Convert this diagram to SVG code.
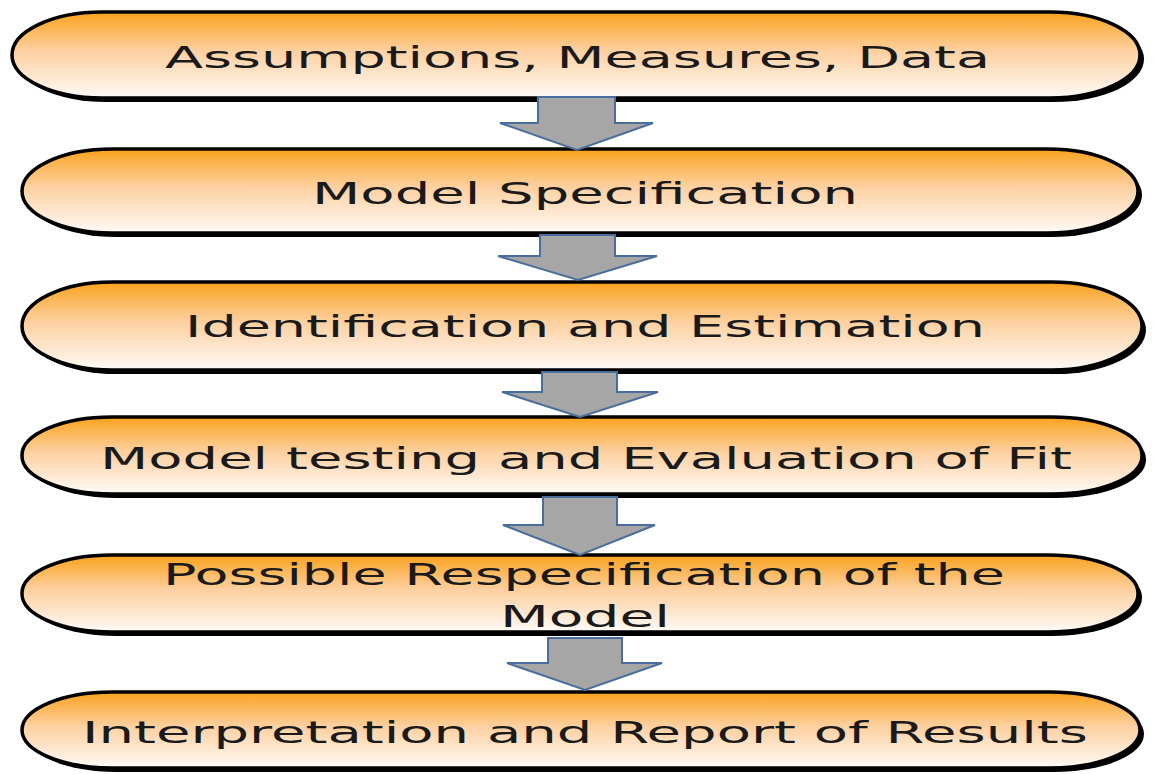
<svg xmlns="http://www.w3.org/2000/svg" width="1154" height="774" viewBox="0 0 1154 774">
  <style>
    .shadow { fill: #000000; }
    .box { fill: url(#orangeFade); stroke: #000000; stroke-width: 3.5; }
    .label { font-family: "DejaVu Sans", Verdana, sans-serif; font-size: 31px; fill: #1a1a1a; text-anchor: start; }
    .arrow { fill: #a6a6a6; stroke: #4a6e9c; stroke-width: 2; stroke-linejoin: miter; }
  </style>
  <defs>
    <linearGradient id="orangeFade" x1="0" y1="0" x2="0" y2="1">
      <stop offset="0" stop-color="#faa21c"/>
      <stop offset="0.45" stop-color="#fdd0a0"/>
      <stop offset="1" stop-color="#fffaf7"/>
    </linearGradient>
  </defs>
  <rect width="1154" height="774" fill="#ffffff"/>

  <!-- step boxes -->
  <g id="step1">
    <rect class="shadow" x="16" y="16" width="1128" height="86" rx="90" ry="43"/>
    <rect class="box" x="12" y="12" width="1128" height="86" rx="90" ry="43"/>
    <text class="label" x="165" y="68" textLength="825" lengthAdjust="spacingAndGlyphs">Assumptions, Measures, Data</text>
  </g>
  <g id="step2">
    <rect class="shadow" x="26" y="153" width="1116" height="84" rx="90" ry="42"/>
    <rect class="box" x="22" y="149" width="1116" height="84" rx="90" ry="42"/>
    <text class="label" x="312" y="204" textLength="546" lengthAdjust="spacingAndGlyphs">Model Specification</text>
  </g>
  <g id="step3">
    <rect class="shadow" x="26" y="286" width="1120" height="88" rx="90" ry="44"/>
    <rect class="box" x="22" y="282" width="1120" height="88" rx="90" ry="44"/>
    <text class="label" x="185" y="337" textLength="800" lengthAdjust="spacingAndGlyphs">Identification and Estimation</text>
  </g>
  <g id="step4">
    <rect class="shadow" x="26" y="421" width="1120" height="77" rx="90" ry="38"/>
    <rect class="box" x="22" y="417" width="1120" height="77" rx="90" ry="38"/>
    <text class="label" x="100" y="469" textLength="972" lengthAdjust="spacingAndGlyphs">Model testing and Evaluation of Fit</text>
  </g>
  <g id="step5">
    <rect class="shadow" x="26" y="559" width="1116" height="77" rx="90" ry="38"/>
    <rect class="box" x="22" y="555" width="1116" height="77" rx="90" ry="38"/>
    <text class="label" x="163" y="585" textLength="842" lengthAdjust="spacingAndGlyphs">Possible Respecification of the</text>
    <text class="label" x="500" y="627" textLength="170" lengthAdjust="spacingAndGlyphs">Model</text>
  </g>
  <g id="step6">
    <rect class="shadow" x="26" y="696" width="1118" height="76" rx="90" ry="38"/>
    <rect class="box" x="22" y="692" width="1118" height="76" rx="90" ry="38"/>
    <text class="label" x="82" y="743" textLength="1006" lengthAdjust="spacingAndGlyphs">Interpretation and Report of Results</text>
  </g>

  <!-- block arrows between steps -->
  <g id="connectors">
    <path class="arrow" d="M538,97 L615,97 L615,123 L653,123 L577,150 L500,123 L538,123 Z"/>
    <path class="arrow" d="M540,235 L615,235 L615,256 L657,256 L578,280 L498,256 L540,256 Z"/>
    <path class="arrow" d="M542,372 L617,372 L617,392 L658,392 L580,417 L502,392 L542,392 Z"/>
    <path class="arrow" d="M543,497 L617,497 L617,525 L655,525 L580,555 L503,525 L543,525 Z"/>
    <path class="arrow" d="M548,638 L622,638 L622,663 L662,663 L585,690 L507,663 L548,663 Z"/>
  </g>
</svg>
